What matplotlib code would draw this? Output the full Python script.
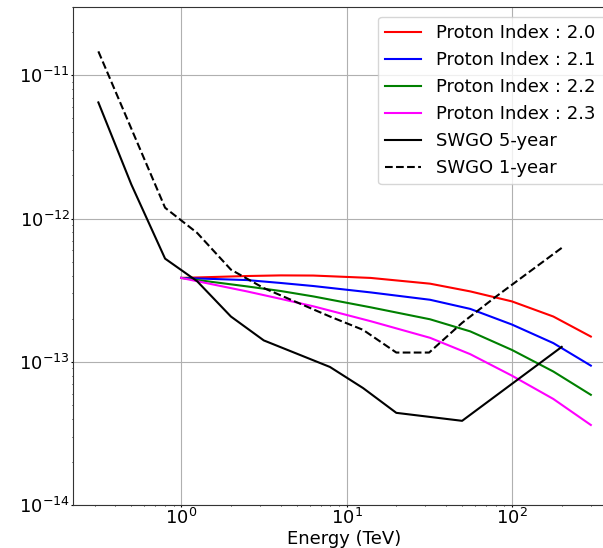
import matplotlib
matplotlib.use("Agg")
import matplotlib.pyplot as plt

# Proton index model curves (E in TeV, flux values)
E_model = [1, 2.5, 4, 6.3, 14, 32, 56, 100, 178, 300]
idx_20 = [3.85e-13, 3.97e-13, 4.01e-13, 4.0e-13, 3.85e-13, 3.51e-13, 3.1e-13, 2.64e-13, 2.07e-13, 1.5e-13]
idx_21 = [3.85e-13, 3.72e-13, 3.55e-13, 3.38e-13, 3.05e-13, 2.71e-13, 2.34e-13, 1.82e-13, 1.35e-13, 0.94e-13]
idx_22 = [3.85e-13, 3.36e-13, 3.12e-13, 2.86e-13, 2.4e-13, 1.98e-13, 1.63e-13, 1.21e-13, 0.855e-13, 0.588e-13]
idx_23 = [3.85e-13, 3.1e-13, 2.75e-13, 2.44e-13, 1.92e-13, 1.47e-13, 1.13e-13, 0.80e-13, 0.55e-13, 0.362e-13]

# SWGO sensitivities
E_5yr = [0.316, 0.5, 0.8, 1.25, 2.0, 3.16, 7.94, 12.6, 20, 50, 200]
swgo_5yr = [6.47e-12, 1.73e-12, 5.25e-13, 3.65e-13, 2.07e-13, 1.41e-13, 9.2e-14, 6.55e-14, 4.4e-14, 3.87e-14, 1.27e-13]
E_1yr = [0.316, 0.8, 1.25, 2.0, 3.16, 7.94, 12.6, 20, 31.6, 50, 79.4, 200]
swgo_1yr = [1.47e-11, 1.19e-12, 7.94e-13, 4.4e-13, 3.27e-13, 2.07e-13, 1.67e-13, 1.16e-13, 1.16e-13, 1.87e-13, 2.83e-13, 6.24e-13]

labels = ["Proton Index : 2.0", "Proton Index : 2.1", "Proton Index : 2.2", "Proton Index : 2.3",
          "SWGO 5-year", "SWGO 1-year"]

plt.rcParams['font.size'] = 13

W, H = 603, 548
fig = plt.figure(figsize=(W / 100, H / 100), dpi=100)
ax = fig.add_axes([73 / W, 43 / H, (615 - 73) / W, (505 - 7) / H])

ax.plot(E_model, idx_20, color='red', lw=1.5, label=labels[0])
ax.plot(E_model, idx_21, color='blue', lw=1.5, label=labels[1])
ax.plot(E_model, idx_22, color='green', lw=1.5, label=labels[2])
ax.plot(E_model, idx_23, color='magenta', lw=1.5, label=labels[3])
ax.plot(E_5yr, swgo_5yr, color='black', lw=1.5, label=labels[4])
ax.plot(E_1yr, swgo_1yr, color='black', lw=1.5, ls='--', label=labels[5])

ax.set_xscale('log')
ax.set_yscale('log')
ax.set_ylim(1e-14, 3e-11)
ax.set_xlim(0.222, 420)
ax.grid(True, which='major', color='#b0b0b0', lw=0.8)
ax.tick_params(which='major', length=1.2, pad=1.0, labelsize=13)
ax.tick_params(which='minor', length=0.9)
ax.set_xlabel("Energy (TeV)", labelpad=1)
for s in ax.spines.values():
    s.set_color('#333333')

top = 1 - 16.7 / H
fig.legend(loc='upper left', bbox_to_anchor=(378 / W, top - 0.3, (625 - 378) / W, 0.3),
           mode='expand', borderaxespad=0, fontsize=13)

fig.savefig("out.png", dpi=100)
